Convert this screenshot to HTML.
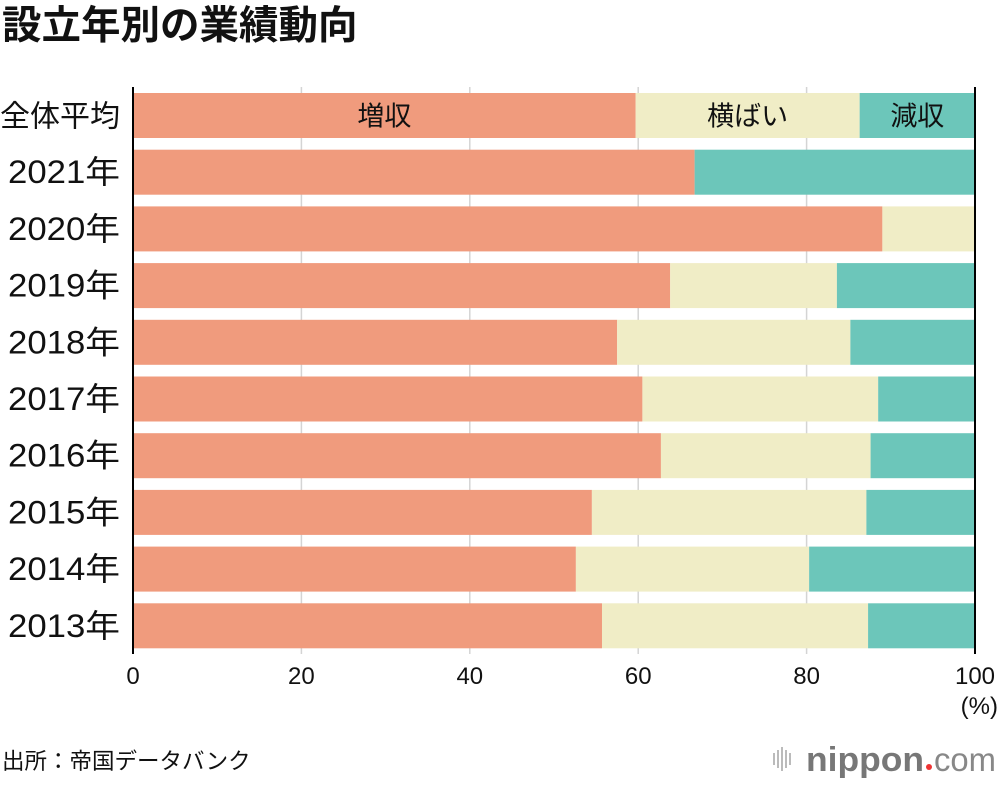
<!DOCTYPE html>
<html><head><meta charset="utf-8">
<style>
body{margin:0;background:#fff;font-family:"Liberation Sans","Noto Sans CJK JP",sans-serif;}
svg text{font-family:"Liberation Sans","Noto Sans CJK JP",sans-serif;fill:#111;}
</style></head>
<body>
<svg width="1000" height="782" viewBox="0 0 1000 782">
<text x="2" y="39" font-size="39.5" font-weight="bold">設立年別の業績動向</text>
<g id="grid"></g>
<g id="bars"></g>
<g id="labels"></g>
<line x1="133" y1="87" x2="133" y2="654" stroke="#000" stroke-width="2"/>
<line x1="975" y1="87" x2="975" y2="654" stroke="#000" stroke-width="2"/>
<g id="ticks"></g>
<text x="998" y="714" font-size="24" text-anchor="end">(%)</text>
<text x="2" y="769" font-size="22.5">出所：帝国データバンク</text>
<g>
<g fill="#bbb"><rect x="773" y="753" width="2" height="12"/><rect x="777" y="750" width="2" height="18"/><rect x="781" y="747" width="2" height="24"/><rect x="785" y="750" width="2" height="18"/><rect x="789" y="753" width="2" height="12"/></g>
<text x="806" y="771" font-size="34" font-weight="bold" textLength="118" lengthAdjust="spacingAndGlyphs" style="fill:#777">nippon</text>
<circle cx="929" cy="767" r="3" fill="#e33"/>
<text x="934" y="771" font-size="33" textLength="62" lengthAdjust="spacingAndGlyphs" style="fill:#888">com</text>
</g>
</svg>
<script>
const categories=["全体平均","2021年","2020年","2019年","2018年","2017年","2016年","2015年","2014年","2013年"];
const increase=[59.7,66.7,89.0,63.8,57.5,60.5,62.7,54.5,52.6,55.7];
const flat=[26.6,0,11.0,19.8,27.7,28.0,24.9,32.6,27.7,31.6];
const decrease=[13.7,33.3,0,16.4,14.8,11.5,12.4,12.9,19.7,12.7];
const xTicks=[0,20,40,60,80,100];
const seriesNames=["増収","横ばい","減収"];
const NS="http://www.w3.org/2000/svg";
const x=v=>133+v*8.42;
const yTop=i=>93+i*56.7;
const bh=45;
const colors=["#F09B7D","#F0EDC6","#6CC6BA"];
function mk(tag,attrs,parent){const e=document.createElementNS(NS,tag);for(const k in attrs)e.setAttribute(k,attrs[k]);document.getElementById(parent).appendChild(e);return e;}
xTicks.forEach(t=>{
 if(t>0&&t<100){const l=mk("line",{x1:x(t),y1:87,x2:x(t),y2:654,stroke:"#d4d4d4","stroke-width":1.5},"grid");
 
 }
 const tx=mk("text",{x:x(t),y:684,"font-size":24,"text-anchor":"middle"},"ticks");
 tx.textContent=t;
 
 
});
const series=[increase,flat,decrease];
categories.forEach((c,i)=>{
 let acc=0;
 series.forEach((s,j)=>{
  const v=s[i];
  if(v>0){const r=mk("rect",{x:x(acc),y:yTop(i),width:x(acc+v)-x(acc),height:bh,fill:colors[j]},"bars");
  
  }
  acc+=v;
 });
 const attrs={x:120,y:yTop(i)+bh/2+11,"font-size":i==0?30:32,"text-anchor":"end"};
 if(i>0){attrs.textLength=112;attrs.lengthAdjust="spacingAndGlyphs";}
 const lb=mk("text",attrs,"labels");
 lb.textContent=c;
 
 
});
let acc=0;
series.forEach((s,j)=>{
 const v=s[0];
 const t=mk("text",{x:x(acc+v/2),y:yTop(0)+bh/2+10,"font-size":27,"text-anchor":"middle"},"labels");
 t.textContent=seriesNames[j];
 
 
 acc+=v;
});
</script>
</body></html>
